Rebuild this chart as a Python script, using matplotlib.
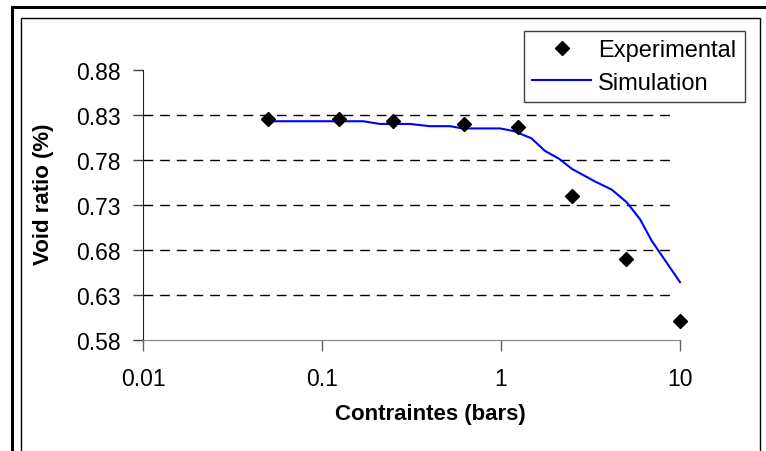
import matplotlib.pyplot as plt
from matplotlib.patches import Rectangle
from matplotlib.ticker import FixedLocator, FixedFormatter, NullLocator

# experimental points
expX = [0.05, 0.125, 0.25, 0.625, 1.25, 2.5, 5, 10]
expY = [0.825, 0.825, 0.823, 0.820, 0.817, 0.740, 0.670, 0.601]

# simulation curve
simX = [0.05, 0.17, 0.21, 0.31, 0.40, 0.52, 0.61, 0.99, 1.18, 1.48, 1.76, 2.12,
        2.49, 3.35, 4.15, 5.03, 5.98, 6.95, 10]
simY = [0.823, 0.823, 0.820, 0.820, 0.8175, 0.8175, 0.815, 0.815, 0.812, 0.804,
        0.790, 0.781, 0.770, 0.756, 0.747, 0.733, 0.714, 0.690, 0.644]

yTicks = [0.58, 0.63, 0.68, 0.73, 0.78, 0.83, 0.88]
xTicks = [0.01, 0.1, 1, 10]
xTickLabels = ["0.01", "0.1", "1", "10"]

plt.rcParams['font.family'] = ['Liberation Sans', 'DejaVu Sans']

W, H = 766, 452
fig = plt.figure(figsize=(W/100, H/100), dpi=100)

#frames around the chart (px -> figure fraction)
def px(x, y):
    return (x/W, 1-y/H)

fig.patches.append(Rectangle(px(12, 480), 800/W, 472/H, transform=fig.transFigure,
                             fill=False, edgecolor='black', linewidth=2.2))
fig.patches.append(Rectangle(px(21, 480), 739/W, 461/H, transform=fig.transFigure,
                             fill=False, edgecolor='black', linewidth=1))

ax = fig.add_axes([143/W, 1-340.7/H, 537/W, 269.7/H])
ax.set_xscale('log')
ax.set_xlim(0.01, 10)
ax.set_ylim(0.58, 0.88)

ax.xaxis.set_major_locator(FixedLocator(xTicks))
ax.xaxis.set_major_formatter(FixedFormatter(xTickLabels))
ax.xaxis.set_minor_locator(NullLocator())
ax.set_yticks(yTicks)
ax.set_yticklabels(["%.2f" % v for v in yTicks])

#dashed gridlines only between the first and last tick
for v in yTicks[1:-1]:
    ax.axhline(v, xmax=(673-143)/537, color='black', linewidth=1,
               linestyle=(0, (7, 5)), zorder=1)

ax.plot(simX, simY, color='#0000ff', linewidth=1.5, label='Simulation', zorder=3, clip_on=False)
ax.plot(expX, expY, linestyle='none', marker='D', markersize=7, color='black',
        label='Experimental', zorder=4, clip_on=False)

for s in ['top', 'right']:
    ax.spines[s].set_visible(False)
ax.spines['left'].set_color('#202020')
ax.spines['bottom'].set_color('#808080')
ax.tick_params(axis='x', direction='out', length=8, width=1, color='#606060', pad=12, labelsize=16.5)
ax.tick_params(axis='y', direction='out', length=7, width=1, color='#404040', pad=9, labelsize=16.5)

fig.text(430/W, 1-415/H, 'Contraintes (bars)', ha='center', va='center',
         fontsize=16, fontweight='bold')
fig.text(44/W, 1-194/H, 'Void ratio (%)', ha='center', va='center', rotation=90,
         fontsize=16, fontweight='bold')

handles, labels = ax.get_legend_handles_labels()
leg = ax.legend(handles[::-1], labels[::-1], loc='upper left',
                bbox_to_anchor=px(524, 31.7), bbox_transform=fig.transFigure,
                borderaxespad=0, fancybox=False, framealpha=1, edgecolor='#404040',
                fontsize=17, handlelength=2.5, handletextpad=0.3, labelspacing=0.45,
                borderpad=0.35)
leg.get_frame().set_linewidth(1)

fig.savefig('out.png', dpi=100)
